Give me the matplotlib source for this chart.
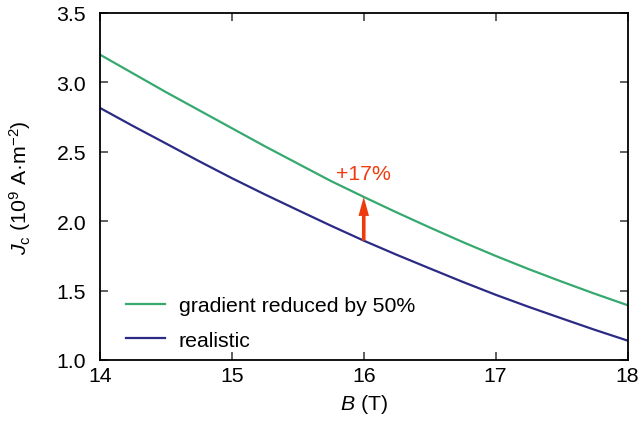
import matplotlib
matplotlib.use("Agg")
import matplotlib.pyplot as plt

plt.rcParams['font.family'] = ['Liberation Sans', 'DejaVu Sans']
plt.rcParams['mathtext.fontset'] = 'custom'
plt.rcParams['mathtext.rm'] = 'Liberation Sans'
plt.rcParams['mathtext.it'] = 'Liberation Sans:italic'

B = [14.0, 14.25, 14.5, 14.75, 15.0, 15.25, 15.5, 15.75, 16.0,
     16.25, 16.5, 16.75, 17.0, 17.25, 17.5, 17.75, 18.0]
jc_reduced = [3.20, 3.065, 2.93, 2.80, 2.67, 2.54, 2.415, 2.29, 2.175,
              2.063, 1.955, 1.85, 1.75, 1.655, 1.565, 1.478, 1.395]
jc_realistic = [2.816, 2.686, 2.56, 2.433, 2.31, 2.193, 2.08, 1.968, 1.86,
                1.758, 1.66, 1.563, 1.47, 1.383, 1.30, 1.218, 1.14]
labels = ["gradient reduced by 50%", "realistic"]
arrow_B = 16.0
arrow_from = 1.86
arrow_to = 2.175
annot_text = "+17%"
annot_y = 2.345

green = '#36a96f'
blue = '#2b2b85'
red = '#ee3a0c'
FS = 15.3

fig = plt.figure(figsize=(6.41, 4.27), dpi=100)
ax = fig.add_axes([100/641, 1 - 361/427, 527.5/641, 347/427])

ax.plot(B, jc_reduced, color=green, lw=1.6, label=labels[0])
ax.plot(B, jc_realistic, color=blue, lw=1.6, label=labels[1])

# arrow geometry: pixel sizes converted to data units along each axis
px_x = 4.0 / 527.5       # x data units per pixel
px_y = 2.5 / 347.0       # y data units per pixel
ax.arrow(arrow_B, arrow_from, 0, arrow_to - arrow_from,
         width=3.6 * px_x, head_width=10.5 * px_x,
         head_length=19 * px_y, length_includes_head=True,
         color=red, lw=0, zorder=3)
ax.text(arrow_B, annot_y, annot_text, color=red, fontsize=FS, ha='center', va='center')

ax.set_xlim(14, 18)
ax.set_ylim(1.0, 3.5)
ax.set_xticks([14, 15, 16, 17, 18])
ax.set_yticks([1.0, 1.5, 2.0, 2.5, 3.0, 3.5])
ax.set_yticklabels(['1.0', '1.5', '2.0', '2.5', '3.0', '3.5'])
ax.tick_params(direction='in', length=6, width=1.2, labelsize=FS, top=True, right=True,
               color='#444444')
ax.tick_params(axis='x', pad=4)
ax.tick_params(axis='y', pad=10)
for s in ax.spines.values():
    s.set_linewidth(1.3)

ax.set_xlabel('$B$ (T)', fontsize=FS, labelpad=5)
ax.set_ylabel('$J_\\mathrm{c}$ (10$^9$ A·m$^{-2}$)', fontsize=FS, labelpad=17)

leg = ax.legend(loc='lower left', bbox_to_anchor=(0.013, -0.025), frameon=False,
                fontsize=FS, handlelength=1.83, handletextpad=0.66, labelspacing=0.72)

fig.savefig('out.png', dpi=100)
